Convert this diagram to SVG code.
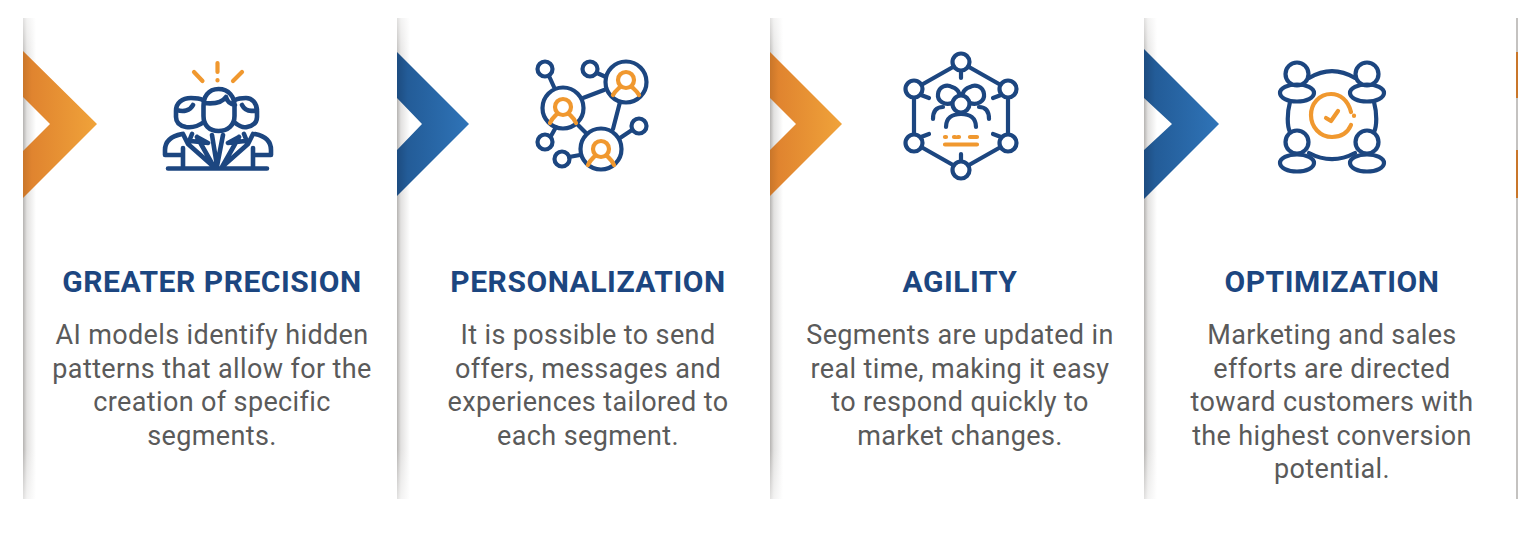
<svg xmlns="http://www.w3.org/2000/svg" width="1518" height="536" viewBox="0 0 1518 536">
<style>
.t{font-family:Roboto,"Liberation Sans",sans-serif;font-weight:700;font-size:30px;letter-spacing:.55px;fill:#1c4680;text-anchor:middle}
.b{font-family:Roboto,"Liberation Sans",sans-serif;font-size:27px;letter-spacing:.37px;fill:#5a5a5a;text-anchor:middle}
.n{fill:none;stroke:#1c4680;stroke-width:4.200;stroke-linecap:round;stroke-linejoin:round}
.o{fill:none;stroke:#f0982f;stroke-width:4.200;stroke-linecap:round;stroke-linejoin:round}
.s{fill:url(#sh)}
.f{fill:url(#fade)}
.g{fill:url(#fade2)}
</style>
<defs>
<linearGradient id="sh"><stop offset="0" stop-color="#b5b3b1"/><stop offset=".3" stop-color="#e2e1e0"/><stop offset="1" stop-color="#fff"/></linearGradient>
<linearGradient id="or"><stop offset="0" stop-color="#c9762a"/><stop offset=".12" stop-color="#e0842f"/><stop offset="1" stop-color="#f0a33a"/></linearGradient>
<linearGradient id="bl"><stop offset="0" stop-color="#1d4c80"/><stop offset=".15" stop-color="#235c98"/><stop offset="1" stop-color="#2f74b8"/></linearGradient>
<linearGradient id="fade" x1="0" y1="0" x2="0" y2="1"><stop offset="0" stop-color="#fff" stop-opacity=".6"/><stop offset="1" stop-color="#fff" stop-opacity="0"/></linearGradient>
<linearGradient id="fade2" x1="0" y1="1" x2="0" y2="0"><stop offset="0" stop-color="#fff" stop-opacity=".6"/><stop offset="1" stop-color="#fff" stop-opacity="0"/></linearGradient>
</defs>
<rect width="1518" height="536" fill="#fff"/>
<g id="card1">
<rect class="s" x="23" y="18" width="13" height="481"/><rect class="f" x="23" y="18" width="13" height="50"/><rect class="g" x="23" y="449" width="13" height="50"/>
<path d="M23 51L97 124L23 198V151L50 124L23 97Z" fill="url(#or)"/>
<g id="icon1">
<path class="o" d="M217.500 63V72M194 72L202.500 81M242 72L233 81M217.500 80V80.500"/>
<path class="n" style="stroke-width:4.600" d="M218.500 89C208 89 203.500 97 203.500 106V116C203.500 125 209 131 218.500 131C228 131 234.500 125 234.500 116V106C234.500 97 229 89 218.500 89ZM204 103C213 104 222 103 226 97C227 101 230 104 235 105"/>
<path class="n" style="stroke-width:4.600" d="M203 100C199 98 196 98 191 98C182 98 176 103 176 111V117C176 123 181 126 186 127C192 128 197 127 204 122M177 110C183 112 190 111 193 105M235 100C239 98 243 98 246 98C252 98 257 103 257 111V117C257 123 252 126 247 127C243 128 240 127 234 122M257 110C250 112 245 111 242 105"/>
<path class="n" style="stroke-width:4.600" d="M182 134C172 136 165 141 165 150V155H182M255 134C265 136 271 141 271 150V155H254M168 168.500H267M183 148V168M253 148V168M183 134L188 144L214 167M253 134L248 144L222 167M192 134L188 144M244 134L248 144M197 137L214 167M239 137L222 167M197 137L208 143L191 141M239 137L228 143L245 141M212 135L217 166L223 135"/>
</g>
<text class="t" x="212" y="291.500">GREATER PRECISION</text>
<text class="b" x="212" y="343.500">AI models identify hidden</text>
<text class="b" x="212" y="377.500">patterns that allow for the</text>
<text class="b" x="212" y="410.500">creation of specific</text>
<text class="b" x="212" y="444.500">segments.</text>
</g>
<g id="card2">
<rect class="s" x="397" y="18" width="13" height="481"/><rect class="f" x="397" y="18" width="13" height="50"/><rect class="g" x="397" y="449" width="13" height="50"/>
<path d="M397 52L469 124L397 196V150L422 124L397 98Z" fill="url(#bl)"/>
<g id="icon2">
<circle class="n" cx="545" cy="69" r="7.500"/><circle class="n" cx="590" cy="69" r="7.500"/>
<circle class="n" cx="626" cy="82" r="20.500"/><circle class="n" cx="563" cy="108" r="20.500"/><circle class="n" cx="601" cy="149" r="20.500"/>
<circle class="n" cx="639" cy="126" r="7.500"/><circle class="n" cx="545" cy="142" r="7.500"/><circle class="n" cx="562" cy="159" r="7.500"/>
<path class="n" d="M549 76L554 87M597 73L606 77M583 98L604 90M620 102L613 129M577 124L586 133M620 138L632 130M551 136L556 127M569 157L580 155"/>
<circle class="o" cx="626" cy="80" r="8"/><circle class="o" cx="563" cy="107" r="8"/><circle class="o" cx="601" cy="149" r="8"/>
<path class="o" d="M613 95C615 91 618 89 620 87M639 95C637 91 634 89 632 87M550 123C552 118 555 116 557 114M576 123C574 118 571 116 569 114M588 165C590 160 593 158 595 156M614 165C612 160 609 158 607 156"/>
</g>
<text class="t" x="588" y="291.500">PERSONALIZATION</text>
<text class="b" x="588" y="343.500">It is possible to send</text>
<text class="b" x="588" y="377.500">offers, messages and</text>
<text class="b" x="588" y="410.500">experiences tailored to</text>
<text class="b" x="588" y="444.500">each segment.</text>
</g>
<g id="card3">
<rect class="s" x="770" y="18" width="13" height="481"/><rect class="f" x="770" y="18" width="13" height="50"/><rect class="g" x="770" y="449" width="13" height="50"/>
<path d="M770 52L842 124L770 196V150L796 124L770 98Z" fill="url(#or)"/>
<g id="icon3">
<circle class="n" cx="961" cy="62" r="8.500"/><circle class="n" cx="914" cy="89" r="8.500"/><circle class="n" cx="1008" cy="89" r="8.500"/>
<circle class="n" cx="914" cy="143" r="8.500"/><circle class="n" cx="1008" cy="143" r="8.500"/><circle class="n" cx="961" cy="170" r="8.500"/>
<path class="n" d="M953 67L923 84M969 67L999 84M914 98V134M1008 98V134M923 148L953 165M999 148L969 165M961 71V78M961 154V161M921 95L929 98M1001 95L993 98M921 137L929 134M1001 137L993 134"/>
<path class="n" d="M952 103C945 106 937 101 938 94C939 86 947 84 952 87C955 88 958 90 959 93M970 103C977 106 985 101 984 94C983 86 975 84 970 87C967 88 964 90 963 93"/>
<circle class="n" cx="961" cy="104" r="8.500"/>
<path class="n" d="M933 119C933 110 937 107 943 107M989 119C989 110 985 107 979 107M946 127C946 118 952 114 961 114C970 114 976 118 976 127"/>
<path class="o" d="M945 137H946M954 137H955M958 137H959M970 137H977M945 144.500H977"/>
</g>
<text class="t" x="960" y="291.500">AGILITY</text>
<text class="b" x="960" y="343.500">Segments are updated in</text>
<text class="b" x="960" y="377.500">real time, making it easy</text>
<text class="b" x="960" y="410.500">to respond quickly to</text>
<text class="b" x="960" y="444.500">market changes.</text>
</g>
<g id="card4">
<rect class="s" x="1144" y="18" width="13" height="481"/><rect class="f" x="1144" y="18" width="13" height="50"/><rect class="g" x="1144" y="449" width="13" height="50"/>
<path d="M1144 49L1219 124L1144 199V150L1172 124L1144 98Z" fill="url(#bl)"/>
<g id="icon4">
<circle class="n" cx="1297" cy="74" r="11.500"/><circle class="n" cx="1367" cy="74" r="11.500"/><circle class="n" cx="1297" cy="142" r="11.500"/><circle class="n" cx="1367" cy="142" r="11.500"/>
<ellipse class="n" cx="1297" cy="93" rx="17" ry="8.500"/><ellipse class="n" cx="1367" cy="93" rx="17" ry="8.500"/><ellipse class="n" cx="1297" cy="163" rx="17" ry="8.500"/><ellipse class="n" cx="1367" cy="163" rx="17" ry="8.500"/>
<path class="n" d="M1309 78C1324 69 1340 69 1355 78M1290 102C1287 113 1287 126 1290 132M1374 102C1377 113 1377 126 1374 132M1309 153C1324 161 1340 161 1355 153"/>
<path class="o" d="M1351 112C1348 100 1340 94 1331 94C1319 94 1311 104 1311 115C1311 127 1320 137 1332 137C1342 137 1348 132 1351 125M1354 115.500V116M1326 118L1331 121L1338 111"/>
</g>
<text class="t" x="1332" y="291.500">OPTIMIZATION</text>
<text class="b" x="1332" y="343.500">Marketing and sales</text>
<text class="b" x="1332" y="377.500">efforts are directed</text>
<text class="b" x="1332" y="410.500">toward customers with</text>
<text class="b" x="1332" y="444.500">the highest conversion</text>
<text class="b" x="1332" y="477.500">potential.</text>
</g>
<g id="card5">
<rect x="1516" y="18" width="2" height="481" fill="#c4c2c0"/>
<path d="M1516 52H1518V98H1516ZM1516 150H1518V198H1516Z" fill="#c9762a"/>
</g>
</svg>
